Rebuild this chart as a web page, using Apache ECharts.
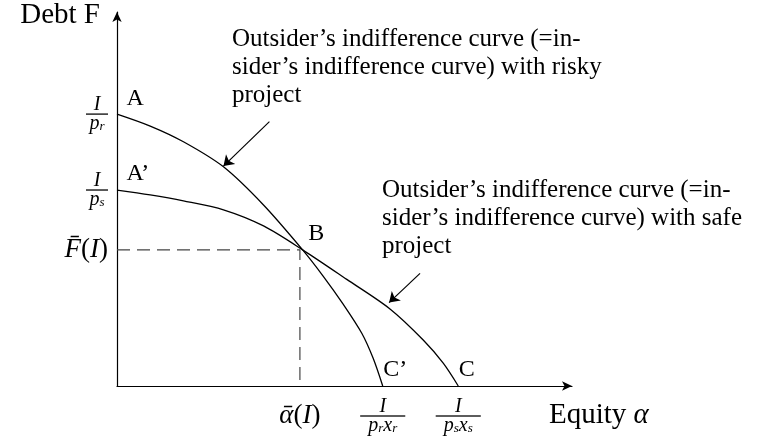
<!DOCTYPE html>
<html>
<head>
<meta charset="utf-8">
<script src="https://cdn.jsdelivr.net/npm/echarts@6/dist/echarts.min.js"></script>
<style>
  html, body { margin: 0; padding: 0; background: #fff; }
  #chart { width: 762px; height: 442px; }
</style>
</head>
<body>
<div id="chart"></div>
<script>
// curves (x: equity, y: debt, arbitrary 0-10 units)
const riskyCurve = [[0, 7.27], [0.73, 6.95], [1.46, 6.53], [2.34, 5.86], [3.22, 4.84],
  [4.08, 3.64], [4.53, 2.94], [4.97, 2.19], [5.38, 1.41], [5.63, 0.74], [5.84, 0]];
const safeCurve = [[0, 5.24], [0.73, 5.11], [1.46, 4.95], [2.34, 4.71], [3.22, 4.28],
  [4.08, 3.64], [5.05, 2.85], [6.00, 2.06], [6.73, 1.23], [7.17, 0.61], [7.50, 0]];
const alphaBar = 4.02;
const debtBar = 3.64;

const pointNames = ['A', 'A’', 'B', 'C’', 'C'];
const pointCoords = [[0, 7.27], [0, 5.24], [4.08, 3.64], [5.84, 0], [7.50, 0]];

const xTickValues = [alphaBar, 5.84, 7.50];
const xTickLabels = ['{fi|ᾱ}{fr|(}{fi|I}{fr|)}', '{n|I}\n{hrw|}\n{d|p}{s|r}{d|x}{s|r}', '{n|I}\n{hrw|}\n{d|p}{s|s}{d|x}{s|s}'];
const yTickValues = [debtBar, 5.24, 7.27];
const yTickLabels = ['{fi|F\u0304}{fr|(}{fi|I}{fr|)}', '{n|I}\n{hr|}\n{d|p}{s|s}', '{n|I}\n{hr|}\n{d|p}{s|r}'];

const arrowSegments = [
  [[3.35, 7.07], [2.34, 5.88]],
  [[6.66, 3.01], [5.98, 2.23]],
];
const riskyNote = ['Outsider’s indifference curve (=in-', 'sider’s indifference curve) with risky', 'project'];
const safeNote = ['Outsider’s indifference curve (=in-', 'sider’s indifference curve) with safe', 'project'];

const serif = '"Liberation Serif", "DejaVu Serif", serif';
const pointLabelOffsets = [[9, -15], [9, -16], [5, -16], [0, -16], [0, -16]];

const mathRich = {
  n: { fontFamily: serif, fontStyle: 'italic', fontSize: 20, lineHeight: 19, align: 'center', color: '#000' },
  hr: { width: 22, height: 0, borderColor: '#000', borderWidth: 0.8, align: 'center' },
  hrw: { width: 45, height: 0, borderColor: '#000', borderWidth: 0.8, align: 'center' },
  d: { fontFamily: serif, fontStyle: 'italic', fontSize: 20, lineHeight: 19, align: 'center', color: '#000' },
  s: { fontFamily: serif, fontStyle: 'italic', fontSize: 13, lineHeight: 9, align: 'center', verticalAlign: 'bottom', color: '#000' },
  fi: { fontFamily: serif, fontStyle: 'italic', fontSize: 27, color: '#000' },
  fr: { fontFamily: serif, fontSize: 27, color: '#000' },
  i: { fontFamily: serif, fontStyle: 'italic', fontSize: 29, color: '#000' },
};

function pick(values, labels, v) {
  let best = 0;
  values.forEach((x, i) => {
    if (Math.abs(x - v) < Math.abs(values[best] - v)) best = i;
  });
  return labels[best];
}

const myChart = echarts.init(document.getElementById('chart'));
const option = {
  animation: false,
  backgroundColor: '#fff',
  grid: { left: 117, right: 190, top: 12, bottom: 56, outerBoundsMode: 'none' },
  xAxis: {
    type: 'value',
    min: 0,
    max: 10,
    splitLine: { show: false },
    axisTick: { show: false },
    axisLine: { lineStyle: { color: '#000', width: 1.2 }, symbol: ['none', 'arrow'], symbolSize: [7, 10] },
    axisLabel: {
      customValues: xTickValues,
      margin: 30,
      verticalAlign: 'middle',
      formatter: (v) => pick(xTickValues, xTickLabels, v),
      rich: mathRich,
    },
    name: 'Equity {i|α}',
    nameLocation: 'end',
    nameGap: -23,
    nameTextStyle: {
      fontFamily: serif, fontSize: 29, color: '#000', align: 'left', verticalAlign: 'middle',
      padding: [58, 0, 0, 0], rich: mathRich,
    },
  },
  yAxis: {
    type: 'value',
    min: 0,
    max: 10,
    splitLine: { show: false },
    axisTick: { show: false },
    axisLine: { lineStyle: { color: '#000', width: 1.2 }, symbol: ['none', 'arrow'], symbolSize: [7, 10] },
    axisLabel: {
      customValues: yTickValues,
      margin: 9,
      formatter: (v) => pick(yTickValues, yTickLabels, v),
      rich: mathRich,
    },
    name: 'Debt F',
    nameLocation: 'end',
    nameGap: -3,
    nameTextStyle: {
      fontFamily: serif, fontSize: 29, color: '#000', align: 'right', verticalAlign: 'middle',
      padding: [0, 17, 0, 0],
    },
  },
  series: [
    {
      name: 'guides',
      type: 'line',
      data: [[0, debtBar], [alphaBar, debtBar], [alphaBar, 0]],
      symbol: 'none',
      lineStyle: { color: '#444', width: 1.2, type: [13, 7] },
      silent: true,
    },
    {
      name: 'risky',
      type: 'line',
      data: riskyCurve,
      smooth: 0.3,
      symbol: 'none',
      lineStyle: { color: '#000', width: 1.3 },
    },
    {
      name: 'safe',
      type: 'line',
      data: safeCurve,
      smooth: 0.3,
      symbol: 'none',
      lineStyle: { color: '#000', width: 1.3 },
    },
    {
      name: 'arrows',
      type: 'lines',
      coordinateSystem: 'cartesian2d',
      data: arrowSegments.map((c) => ({ coords: c })),
      symbol: ['none', 'arrow'],
      symbolSize: [7, 10],
      lineStyle: { color: '#000', width: 1.2, opacity: 1 },
    },
    {
      name: 'points',
      type: 'scatter',
      symbolSize: 1,
      itemStyle: { color: '#000', opacity: 0 },
      data: pointNames.map((n, i) => ({
        name: n,
        value: pointCoords[i],
        label: { offset: pointLabelOffsets[i] },
      })),
      label: {
        show: true,
        position: 'right',
        distance: 0,
        align: 'left',
        verticalAlign: 'middle',
        formatter: (p) => p.name,
        fontFamily: serif,
        fontSize: 24,
        color: '#000',
        opacity: 1,
        textBorderWidth: 0,
      },
    },
  ],
  graphic: [
    {
      type: 'text',
      left: 232,
      top: 25,
      style: { text: riskyNote.join('\n'), font: '25px ' + serif, lineHeight: 28, fill: '#000' },
    },
    {
      type: 'text',
      left: 382,
      top: 176,
      style: { text: safeNote.join('\n'), font: '25px ' + serif, lineHeight: 28, fill: '#000' },
    },
  ],
};
myChart.setOption(option);
</script>
</body>
</html>
